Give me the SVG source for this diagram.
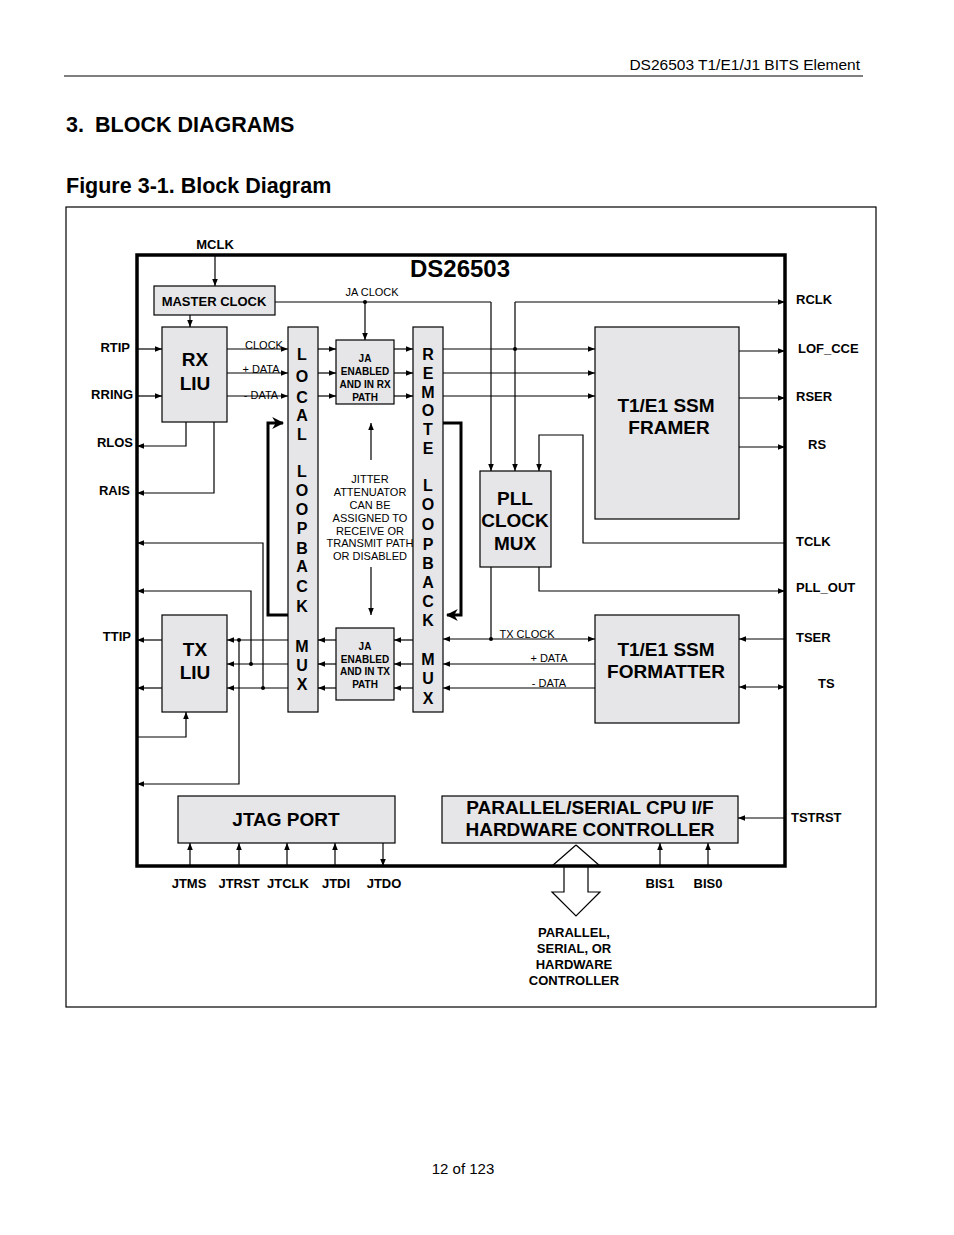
<svg xmlns="http://www.w3.org/2000/svg" width="954" height="1235" viewBox="0 0 954 1235">
<defs>
<marker id="a" viewBox="0 0 10 10" refX="10" refY="5" markerWidth="6" markerHeight="6" orient="auto"><path d="M0,1 L10,5 L0,9 z" fill="#000"/></marker>
<marker id="as" viewBox="0 0 10 10" refX="0" refY="5" markerWidth="6" markerHeight="6" orient="auto"><path d="M10,1 L0,5 L10,9 z" fill="#000"/></marker>
<marker id="big" viewBox="0 0 10 10" refX="9" refY="5" markerWidth="4" markerHeight="4" orient="auto"><path d="M0,0 L10,5 L0,10 L3,5 z" fill="#000"/></marker>
</defs>
<style>
text{font-family:"Liberation Sans",Arial,sans-serif;fill:#000}
.b{font-weight:bold}
.pin{font-size:13px;font-weight:bold}
.sm{font-size:11px}
.blk{fill:#e6e6e8;stroke:#000;stroke-width:1.2}
.big{font-size:19px;font-weight:bold;text-anchor:middle}
.ja{font-size:10px;font-weight:bold;text-anchor:middle}
.mux{font-size:16px;font-weight:bold;text-anchor:middle}
#conn path,#conn line{fill:none;stroke:#000;stroke-width:1.2}
.m{marker-end:url(#a)}
</style>
<rect width="954" height="1235" fill="#fff"/>
<line x1="64" y1="76" x2="863" y2="76" stroke="#000" stroke-width="1"/>
<text x="860" y="70" font-size="15.5" text-anchor="end">DS26503 T1/E1/J1 BITS Element</text>
<text x="66" y="132" font-size="21.5" class="b">3.</text>
<text x="95" y="132" font-size="21.5" class="b">BLOCK DIAGRAMS</text>
<text x="66" y="193" font-size="21.5" class="b">Figure 3-1. Block Diagram</text>
<text x="463" y="1174" font-size="15" text-anchor="middle">12 of 123</text>
<rect x="66" y="207" width="810" height="800" fill="none" stroke="#000" stroke-width="1.2"/>
<g id="chip"><rect x="137" y="255" width="648" height="611" fill="none" stroke="#000" stroke-width="3.5"/>
<text x="460" y="277" font-size="24" class="b" text-anchor="middle">DS26503</text></g>

<g id="masterclock"><rect class="blk" x="154" y="286" width="121" height="29"/><text x="214" y="306" font-size="13" class="b" text-anchor="middle">MASTER CLOCK</text></g>
<g id="rxliu"><rect class="blk" x="162" y="327" width="65" height="95"/><text class="big" x="195" y="366">RX</text><text class="big" x="195" y="390">LIU</text></g>
<g id="txliu"><rect class="blk" x="162" y="615" width="65" height="97"/><text class="big" x="195" y="656">TX</text><text class="big" x="195" y="679">LIU</text></g>
<g id="localmux"><rect class="blk" x="288" y="327" width="30" height="385"/>
<text class="mux" x="302"><tspan x="302" y="360">L</tspan><tspan x="302" y="382">O</tspan><tspan x="302" y="403">C</tspan><tspan x="302" y="421">A</tspan><tspan x="302" y="440">L</tspan><tspan x="302" y="477">L</tspan><tspan x="302" y="496">O</tspan><tspan x="302" y="515">O</tspan><tspan x="302" y="534">P</tspan><tspan x="302" y="554">B</tspan><tspan x="302" y="572">A</tspan><tspan x="302" y="592">C</tspan><tspan x="302" y="612">K</tspan><tspan x="302" y="652">M</tspan><tspan x="302" y="671">U</tspan><tspan x="302" y="690">X</tspan></text></g>
<g id="remotemux"><rect class="blk" x="413" y="327" width="30" height="385"/>
<text class="mux" x="428"><tspan x="428" y="360">R</tspan><tspan x="428" y="379">E</tspan><tspan x="428" y="398">M</tspan><tspan x="428" y="416">O</tspan><tspan x="428" y="435">T</tspan><tspan x="428" y="454">E</tspan><tspan x="428" y="491">L</tspan><tspan x="428" y="510">O</tspan><tspan x="428" y="530">O</tspan><tspan x="428" y="550">P</tspan><tspan x="428" y="569">B</tspan><tspan x="428" y="588">A</tspan><tspan x="428" y="607">C</tspan><tspan x="428" y="626">K</tspan><tspan x="428" y="665">M</tspan><tspan x="428" y="684">U</tspan><tspan x="428" y="704">X</tspan></text></g>
<g id="jarx"><rect class="blk" x="336" y="340" width="58" height="64"/><text class="ja" x="365" y="362">JA</text><text class="ja" x="365" y="375">ENABLED</text><text class="ja" x="365" y="388">AND IN RX</text><text class="ja" x="365" y="401">PATH</text></g>
<g id="jatx"><rect class="blk" x="336" y="628" width="58" height="72"/><text class="ja" x="365" y="650">JA</text><text class="ja" x="365" y="663">ENABLED</text><text class="ja" x="365" y="675">AND IN TX</text><text class="ja" x="365" y="688">PATH</text></g>
<g id="pll"><rect class="blk" x="480" y="471" width="71" height="96"/><text class="big" x="515" y="505">PLL</text><text class="big" x="515" y="527">CLOCK</text><text class="big" x="515" y="550">MUX</text></g>
<g id="framer"><rect class="blk" x="595" y="327" width="144" height="192"/><text class="big" x="666" y="412">T1/E1 SSM</text><text class="big" x="669" y="434">FRAMER</text></g>
<g id="formatter"><rect class="blk" x="595" y="615" width="144" height="108"/><text class="big" x="666" y="656">T1/E1 SSM</text><text class="big" x="666" y="678">FORMATTER</text></g>
<g id="jtag"><rect class="blk" x="178" y="796" width="217" height="47"/><text class="big" x="286" y="826" font-size="18">JTAG PORT</text></g>
<g id="cpu"><rect class="blk" x="442" y="796" width="296" height="47"/><text class="big" x="590" y="814" font-size="18">PARALLEL/SERIAL CPU I/F</text><text class="big" x="590" y="836" font-size="18">HARDWARE CONTROLLER</text></g>
<g id="jitter-note" class="sm" text-anchor="middle"><text x="370" y="483">JITTER</text><text x="370" y="496">ATTENUATOR</text><text x="370" y="509">CAN BE</text><text x="370" y="522">ASSIGNED TO</text><text x="370" y="535">RECEIVE OR</text><text x="370" y="547">TRANSMIT PATH</text><text x="370" y="560">OR DISABLED</text></g>

<g id="labels" class="pin">
<text x="215" y="249" text-anchor="middle">MCLK</text>
<text x="130" y="352" text-anchor="end">RTIP</text><text x="133" y="399" text-anchor="end">RRING</text><text x="133" y="447" text-anchor="end">RLOS</text><text x="130" y="495" text-anchor="end">RAIS</text><text x="131" y="641" text-anchor="end">TTIP</text>
<text x="796" y="304">RCLK</text><text x="798" y="353">LOF_CCE</text><text x="796" y="401">RSER</text><text x="808" y="449">RS</text><text x="796" y="546">TCLK</text><text x="796" y="592">PLL_OUT</text><text x="796" y="642">TSER</text><text x="818" y="688">TS</text><text x="791" y="822">TSTRST</text>
<g text-anchor="middle"><text x="189" y="888">JTMS</text><text x="239" y="888">JTRST</text><text x="288" y="888">JTCLK</text><text x="336" y="888">JTDI</text><text x="384" y="888">JTDO</text><text x="660" y="888">BIS1</text><text x="708" y="888">BIS0</text>
<text x="574" y="937">PARALLEL,</text><text x="574" y="953">SERIAL, OR</text><text x="574" y="969">HARDWARE</text><text x="574" y="985">CONTROLLER</text></g>
</g>
<g id="siglabels" class="sm" text-anchor="middle"><text x="264" y="349">CLOCK</text><text x="261" y="373">+ DATA</text><text x="261" y="399">- DATA</text><text x="372" y="296">JA CLOCK</text><text x="527" y="638">TX CLOCK</text><text x="549" y="662">+ DATA</text><text x="549" y="687">- DATA</text></g>

<g id="conn">
<path class="m" d="M215,255 V286"/>
<path class="m" d="M190,315 V327"/>
<path d="M275,302 H491"/><path class="m" d="M491,302 V471"/>
<path class="m" d="M365,302 V340"/>
<path class="m" d="M137,349 H162"/><path class="m" d="M137,396 H162"/>
<path class="m" d="M186,422 V446 H137"/><path class="m" d="M214,422 V493 H137"/>
<path class="m" d="M227,349 H288"/><path class="m" d="M227,373 H288"/><path class="m" d="M227,396 H288"/>
<path class="m" d="M318,349 H336"/><path class="m" d="M318,373 H336"/><path class="m" d="M318,396 H336"/>
<path class="m" d="M394,349 H413"/><path class="m" d="M394,373 H413"/><path class="m" d="M394,396 H413"/>
<path class="m" d="M443,349 H595"/><path class="m" d="M443,373 H595"/><path class="m" d="M443,396 H595"/>
<path class="m" d="M515,302 H785"/><path class="m" d="M515,302 V471"/>
<path class="m" d="M739,351 H785"/><path class="m" d="M739,398 H785"/><path class="m" d="M739,447 H785"/>
<path class="m" d="M785,543 H583 V435 H539 V471"/>
<path class="m" d="M539,567 V591 H785"/>
<path d="M491,567 V639"/>
<path class="m" d="M491,639 H443"/><path class="m" d="M491,639 H595"/>
<path class="m" d="M785,639 H739"/>
<path class="m" d="M739,687 H785" style="marker-start:url(#as)"/>
<path class="m" d="M595,664 H443"/><path class="m" d="M595,688 H443"/>
<path class="m" d="M413,640 H394"/><path class="m" d="M413,664 H394"/><path class="m" d="M413,688 H394"/>
<path class="m" d="M336,640 H318"/><path class="m" d="M336,664 H318"/><path class="m" d="M336,688 H318"/>
<path class="m" d="M288,640 H227"/><path class="m" d="M288,664 H227"/><path class="m" d="M288,688 H227"/>
<path class="m" d="M162,640 H137"/><path class="m" d="M162,688 H137"/>
<path class="m" d="M263,688 V543 H137"/><path class="m" d="M251,664 V591 H137"/><path class="m" d="M239,640 V784 H137"/>
<path class="m" d="M137,737 H186 V712"/>
<path d="M288,615 H268 V423 H283" style="stroke-width:3;marker-end:url(#big)"/>
<path d="M443,423 H461 V615 H447" style="stroke-width:3;marker-end:url(#big)"/>
<path class="m" d="M371,460 V423"/><path class="m" d="M371,567 V615"/>
<path class="m" d="M785,818 H738"/>
<path class="m" d="M190,866 V843"/><path class="m" d="M239,866 V843"/><path class="m" d="M287,866 V843"/><path class="m" d="M335,866 V843"/><path class="m" d="M383,843 V866"/>
<path class="m" d="M660,866 V843"/><path class="m" d="M708,866 V843"/>
<path d="M576,845 L552,866 M576,845 L600,866 M564,866 V892 H552 L576,916 L600,892 H588 V866"/>
</g>
<g id="dots" fill="#000"><circle cx="365" cy="302" r="2"/><circle cx="515" cy="349" r="2"/><circle cx="491" cy="639" r="2"/><circle cx="239" cy="640" r="2"/><circle cx="251" cy="664" r="2"/><circle cx="263" cy="688" r="2"/></g>
</svg>
